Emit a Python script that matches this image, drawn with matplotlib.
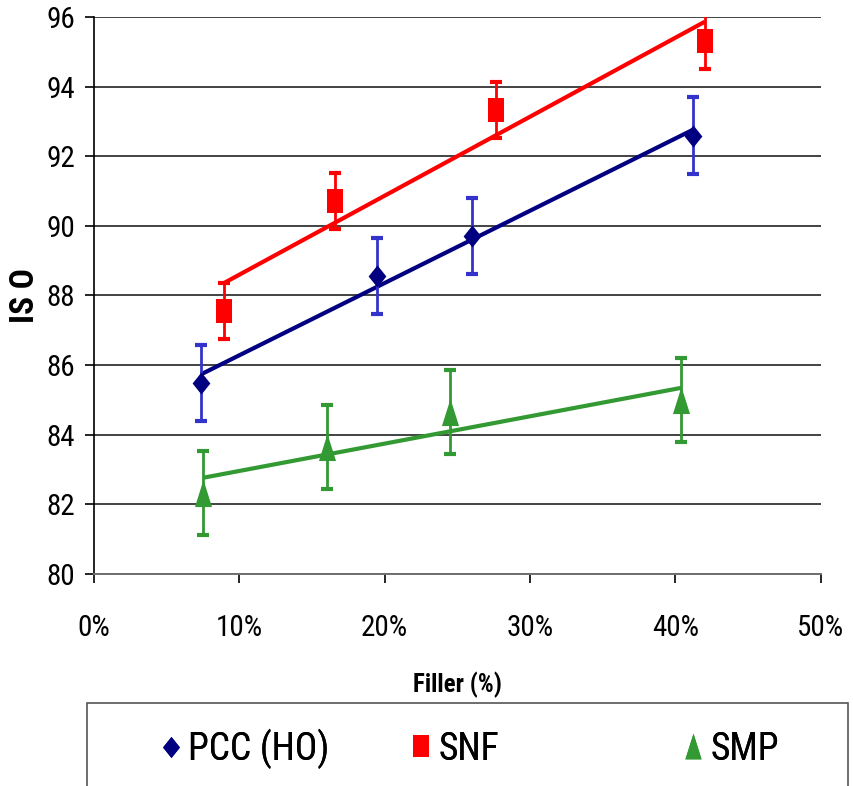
import numpy as np
import matplotlib
matplotlib.use('Agg')
import matplotlib.pyplot as plt
from matplotlib.patches import Rectangle
from matplotlib.path import Path
from matplotlib import font_manager

names = set(f.name for f in font_manager.fontManager.ttflist)
narrow = [n for n in ['Liberation Sans Narrow', 'DejaVu Sans Condensed', 'Roboto Condensed']
          if n in names]
plt.rcParams['font.family'] = narrow + ['Liberation Sans', 'DejaVu Sans']

# data
pcc_x = [0.0736, 0.195, 0.260, 0.412]
pcc_y = [85.49, 88.56, 89.71, 92.59]
pcc_err = [1.1, 1.1, 1.08, 1.1]

snf_x = [0.0894, 0.1658, 0.2765, 0.4202]
snf_y = [87.56, 90.72, 93.32, 95.31]
snf_err = [0.8, 0.8, 0.8, 0.8]

smp_x = [0.075, 0.160, 0.245, 0.404]
smp_y = [82.33, 83.65, 84.66, 85.0]
smp_err = [1.2, 1.2, 1.2, 1.2]

x_ticks = [0.0, 0.1, 0.2, 0.3, 0.4, 0.5]
x_labels = ['0%', '10%', '20%', '30%', '40%', '50%']
y_ticks = [80, 82, 84, 86, 88, 90, 92, 94, 96]

# marker shapes
diamond = Path([(0, 1), (0.8, 0), (0, -1), (-0.8, 0), (0, 1)], closed=True)
rect = Path([(-0.7, -1), (0.7, -1), (0.7, 1), (-0.7, 1), (-0.7, -1)], closed=True)
tri = Path([(0, 1), (0.63, -1), (-0.63, -1), (0, 1)], closed=True)

series = [
    ('PCC (HO)', pcc_x, pcc_y, pcc_err, diamond, 16, '#000080', '#3333cc', '#000080'),
    ('SNF', snf_x, snf_y, snf_err, rect, 17, '#ff0000', '#ff0000', '#ff0000'),
    ('SMP', smp_x, smp_y, smp_err, tri, 19.5, '#339933', '#339933', '#339933'),
]

fig = plt.figure(figsize=(8.54, 7.86), dpi=100)
ax = fig.add_axes([0.110, 0.2697, 0.851, 0.7087])

handles = []
for name, xs, ys, err, mk, ms, mcol, ecol, lcol in series:
    xs = np.array(xs)
    ys = np.array(ys)
    # linear trendline like excel
    k, b = np.polyfit(xs, ys, 1)
    xl = np.array([xs.min(), xs.max()])
    ax.plot(xl, k * xl + b, color=lcol, lw=3.0, zorder=3, solid_capstyle='butt')
    ax.errorbar(xs, ys, yerr=err, fmt='none', ecolor=ecol, elinewidth=2.0,
                capsize=4, capthick=3, zorder=4)
    h, = ax.plot(xs, ys, linestyle='none', marker=mk, markersize=ms,
                 color=mcol, markeredgewidth=0, zorder=5, label=name)
    handles.append(h)

ax.set_xlim(0, 0.5)
ax.set_ylim(80, 96)
ax.set_xticks(x_ticks)
ax.set_xticklabels(x_labels)
ax.set_yticks(y_ticks)
ax.tick_params(axis='both', labelsize=21, length=6.5, width=1.2, color='black')
ax.tick_params(axis='x', pad=22)
ax.tick_params(axis='y', pad=7)

ax.grid(axis='y', color='#222222', lw=1.2)
ax.set_axisbelow(True)
for s in ['top', 'right']:
    ax.spines[s].set_visible(False)
ax.spines['left'].set_linewidth(1.2)
ax.spines['bottom'].set_linewidth(1.4)
ax.spines['bottom'].set_color('#707070')

ax.set_xlabel('Filler (%)', fontsize=18, fontweight='bold', labelpad=22)
ax.set_ylabel('IS O', fontsize=24, fontweight='bold', labelpad=4)

# legend box, runs off the bottom of the figure
fig.patches.append(Rectangle((87 / 854, -0.05), (848 - 87) / 854, 0.05 + (786 - 703) / 786,
                             transform=fig.transFigure, fill=False,
                             edgecolor='#555555', lw=1.2))
# one legend per entry so the spacing matches the original
leg_x = [160, 410, 682]
for h, lx in zip(handles, leg_x):
    lg = fig.legend(handles=[h], loc='center left',
                    bbox_to_anchor=(lx / 854, 1 - 749 / 786),
                    frameon=False, fontsize=27, handletextpad=0.15,
                    handlelength=0.6, borderpad=0, borderaxespad=0,
                    markerscale=0.95)
    fig.add_artist(lg)

fig.savefig('out.png', dpi=100)
